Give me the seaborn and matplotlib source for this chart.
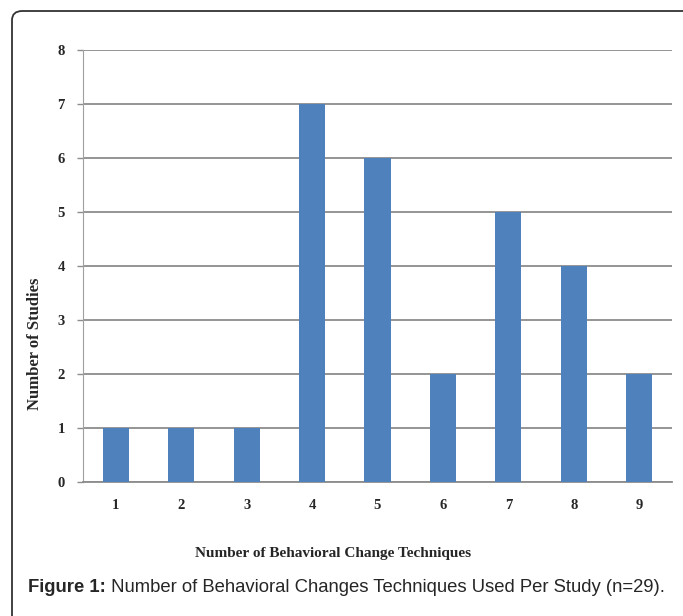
import pandas as pd
import matplotlib.pyplot as plt
import seaborn as sns
from matplotlib.patches import FancyBboxPatch

# data
techniques = ["1", "2", "3", "4", "5", "6", "7", "8", "9"]
studies = [1, 1, 1, 7, 6, 2, 5, 4, 2]
y_ticks = [0, 1, 2, 3, 4, 5, 6, 7, 8]

df = pd.DataFrame({"techniques": techniques, "studies": studies})

sns.set_style("white")
plt.rcParams["font.family"] = ["Liberation Serif", "DejaVu Serif"]

fig = plt.figure(figsize=(6.83, 6.16), dpi=100)
ax = fig.add_axes([83 / 683, 1 - 482 / 616, 589 / 683, 432 / 616])

sns.barplot(data=df, x="techniques", y="studies", color="#4F81BD",
            width=0.4, saturation=1, linewidth=0, ax=ax, zorder=3)

ax.set_ylim(0, 8)
ax.set_yticks(y_ticks)
ax.yaxis.grid(True, color="#8c8c8c", linewidth=1.3, zorder=0)
ax.set_axisbelow(True)
for s in ["top", "right"]:
    ax.spines[s].set_visible(False)
ax.spines["left"].set_color("#a0a0a0")
ax.spines["bottom"].set_color("#8c8c8c")
ax.spines["bottom"].set_linewidth(1.3)
ax.tick_params(axis="y", length=4, width=1, color="#8c8c8c", pad=9, left=True)
ax.tick_params(axis="x", length=0, pad=12)
for lab in ax.get_xticklabels() + ax.get_yticklabels():
    lab.set_fontweight("bold")
    lab.set_fontsize(10.5)
ax.set_xlabel("")
ax.set_ylabel("")

fig.text(333 / 683, 1 - 553 / 616, "Number of Behavioral Change Techniques",
         ha="center", va="center", fontsize=11, fontweight="bold")
fig.text(35 / 683, 1 - 344 / 616, "Number of Studies", rotation=90,
         ha="center", va="center", fontsize=12, fontweight="bold")

# caption
cap = fig.text(28 / 683, 1 - 587 / 616, "Figure 1:", ha="left", va="center",
               fontsize=13.3, fontweight="bold", family=["Liberation Sans"])
ax.annotate(" Number of Behavioral Changes Techniques Used Per Study (n=29).",
            xy=(1, 0), xycoords=cap, ha="left", va="bottom",
            fontsize=13.3, family=["Liberation Sans"], annotation_clip=False)

# rounded frame around the figure
frame = FancyBboxPatch((12 / 683, -0.1), 1.2, 1 - 11 / 616 + 0.1,
                       boxstyle="round,pad=0,rounding_size=0.015",
                       transform=fig.transFigure, fill=False,
                       edgecolor="#333333", linewidth=1.3)
fig.patches.append(frame)

fig.savefig("out.png", dpi=100)
